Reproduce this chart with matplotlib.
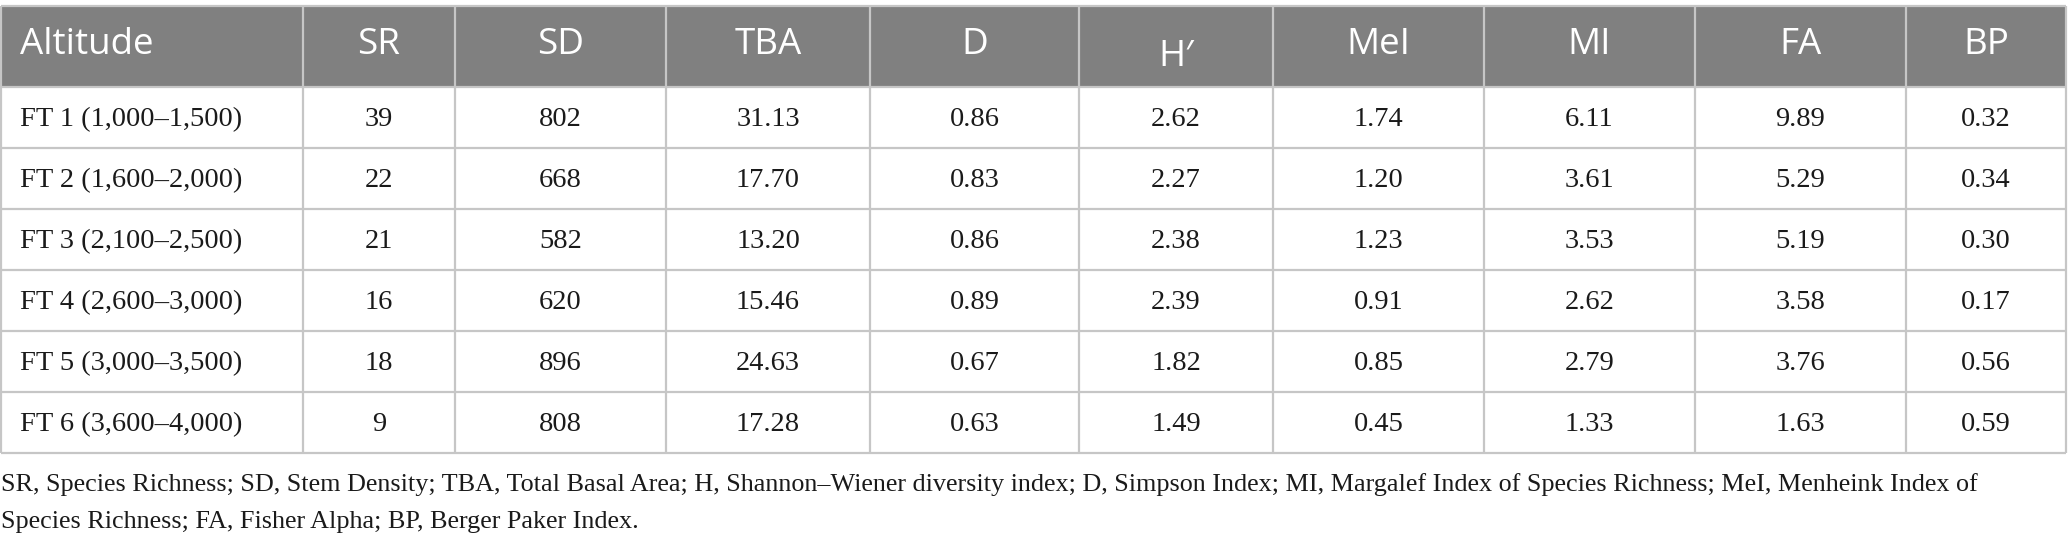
import matplotlib.pyplot as plt
from matplotlib.patches import Rectangle

# table data
columns = ["Altitude", "SR", "SD", "TBA", "D", "H\u2032", "MeI", "MI", "FA", "BP"]
altitude = ["FT 1 (1,000\u20131,500)", "FT 2 (1,600\u20132,000)", "FT 3 (2,100\u20132,500)",
            "FT 4 (2,600\u20133,000)", "FT 5 (3,000\u20133,500)", "FT 6 (3,600\u20134,000)"]
sr = [39, 22, 21, 16, 18, 9]
sd = [802, 668, 582, 620, 896, 808]
tba = [31.13, 17.70, 13.20, 15.46, 24.63, 17.28]
d = [0.86, 0.83, 0.86, 0.89, 0.67, 0.63]
h = [2.62, 2.27, 2.38, 2.39, 1.82, 1.49]
mei = [1.74, 1.20, 1.23, 0.91, 0.85, 0.45]
mi = [6.11, 3.61, 3.53, 2.62, 2.79, 1.33]
fa = [9.89, 5.29, 5.19, 3.58, 3.76, 1.63]
bp = [0.32, 0.34, 0.30, 0.17, 0.56, 0.59]

footnote = ["SR, Species Richness; SD, Stem Density; TBA, Total Basal Area; H, Shannon\u2013Wiener diversity index; "
            "D, Simpson Index; MI, Margalef Index of Species Richness; MeI, Menheink Index of",
            "Species Richness; FA, Fisher Alpha; BP, Berger Paker Index."]

W, H = 2068, 544
fig = plt.figure(figsize=(W / 100, H / 100), dpi=100)
ax = fig.add_axes([0, 0, 1, 1])
ax.set_xlim(0, W)
ax.set_ylim(H, 0)
ax.axis('off')

col_edges = [1, 303, 455, 666, 870, 1079, 1273, 1484, 1695, 1906, 2066]
top, head_bot, bottom = 6, 87, 453
row_h = (bottom - head_bot) / len(altitude)
line_col = '#c6c6c6'

# header
ax.add_patch(Rectangle((col_edges[0], top), col_edges[-1] - col_edges[0], head_bot - top,
                       facecolor='#808080', edgecolor='none'))
for i, name in enumerate(columns):
    yy = (top + head_bot) / 2 - 2 + (12 if name.startswith("H") else 0)
    if i == 0:
        ax.text(col_edges[0] + 19, yy, name, ha='left', va='center', color='white',
                fontsize=26.5, family='Open Sans')
    else:
        ax.text((col_edges[i] + col_edges[i + 1]) / 2, yy, name, ha='center', va='center',
                color='white', fontsize=26.5, family='Open Sans')

# body
rows = list(zip(altitude, sr, sd, tba, d, h, mei, mi, fa, bp))
for r, row in enumerate(rows):
    yc = head_bot + (r + 0.5) * row_h + 2
    for i, val in enumerate(row):
        if i == 0:
            ax.text(col_edges[0] + 19, yc, val, ha='left', va='center', color='#1a1a1a',
                    fontsize=20.5, family='Liberation Serif')
        else:
            s = str(val) if i <= 2 else f"{val:.2f}"
            ax.text((col_edges[i] + col_edges[i + 1]) / 2, yc, s, ha='center', va='center',
                    color='#1a1a1a', fontsize=20.5, family='Liberation Serif')

# grid lines
ys = [top, head_bot] + [head_bot + (k + 1) * row_h for k in range(len(altitude))]
ax.hlines(ys, col_edges[0], col_edges[-1], color=line_col, lw=1.6)
ax.vlines(col_edges, top, bottom, color=line_col, lw=1.6)

# footnote
for k, line in enumerate(footnote):
    ax.text(1, 485 + k * 37, line, ha='left', va='center', color='#1a1a1a',
            fontsize=18.8, family='Liberation Serif')

fig.savefig('out.png', dpi=100)
